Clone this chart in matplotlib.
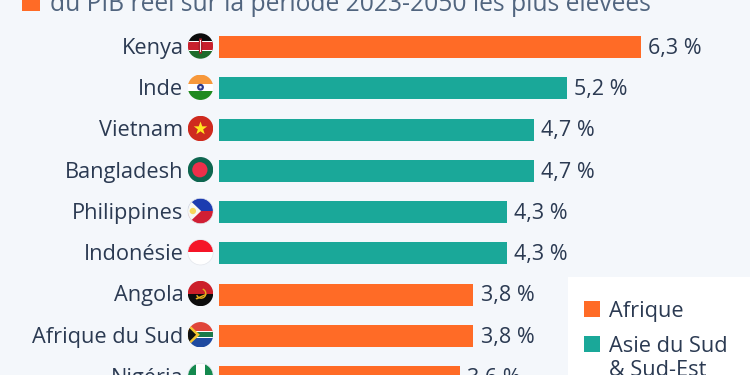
import matplotlib
matplotlib.use("Agg")
import matplotlib.pyplot as plt
from matplotlib.patches import Circle, Rectangle, Polygon, Wedge

countries = ["Kenya", "Inde", "Vietnam", "Bangladesh", "Philippines", "Indonésie", "Angola", "Afrique du Sud", "Nigéria"]
values = [6.3, 5.2, 4.7, 4.7, 4.3, 4.3, 3.8, 3.8, 3.6]
regions = ["Afrique", "Asie", "Asie", "Asie", "Asie", "Asie", "Afrique", "Afrique", "Afrique"]
value_labels = ["6,3 %", "5,2 %", "4,7 %", "4,7 %", "4,3 %", "4,3 %", "3,8 %", "3,8 %", "3,6 %"]
colors = {"Afrique": "#ff6b26", "Asie": "#1aa899"}
subtitle = "du PIB réel sur la période 2023-2050 les plus élevées"
BG = "#f4f7fb"; INK = "#2b3a52"; SUB = "#51657f"
FS = 15.7

plt.rcParams["font.family"] = ["Open Sans", "DejaVu Sans"]
W, H = 750, 375
fig = plt.figure(figsize=(7.5, 3.75), dpi=100, facecolor=BG)

ov = fig.add_axes([0, 0, 1, 1], zorder=1)
ov.set_xlim(0, W); ov.set_ylim(H, 0); ov.axis("off")

x0, ppu = 219, 66.95
y0, step = 47, 41.25
ax = fig.add_axes([x0 / W, 0, 1 - x0 / W, 1], zorder=2)
ax.patch.set_alpha(0)
ax.set_xlim(0, (W - x0) / ppu)
ax.set_ylim((H - y0) / step, -y0 / step)
ax.axis("off")
ypos = list(range(len(countries)))
ax.barh(ypos, values, height=22 / step, color=[colors[r] for r in regions], linewidth=0)
for y, v, l in zip(ypos, values, value_labels):
    ax.annotate(l, (v, y), xytext=(5.2, 0.8), textcoords="offset points", va="center_baseline", ha="left",
                fontsize=15.45, color=INK, annotation_clip=False)

def flag(cx, cy, name):
    r = 12.7
    clip = Circle((cx, cy), r, transform=ov.transData)
    def band(top, bot, c):
        p = Rectangle((cx - r, cy - r + top * 2 * r), 2 * r, (bot - top) * 2 * r, fc=c, ec="none")
        ov.add_patch(p); p.set_clip_path(clip)
    def poly(pts, c):
        p = Polygon([(cx + a * r, cy + b * r) for a, b in pts], fc=c, ec="none")
        ov.add_patch(p); p.set_clip_path(clip)
    def disc(dx, dy, rr, c):
        p = Circle((cx + dx * r, cy + dy * r), rr * r, fc=c, ec="none")
        ov.add_patch(p); p.set_clip_path(clip)
    star = [(0, -.55), (.14, -.17), (.53, -.17), (.21, .07), (.33, .45), (0, .22), (-.33, .45), (-.21, .07), (-.53, -.17), (-.14, -.17)]
    if name == "Kenya":
        band(0, .33, "#0c0c0c"); band(.33, .66, "#c8202c"); band(.66, 1, "#1d6b2a")
        band(.31, .36, "#ffffff"); band(.64, .69, "#ffffff")
        poly([(-.1, -.6), (.1, -.6), (.17, 0), (.1, .6), (-.1, .6), (-.17, 0)], "#a81d28")
        poly([(-.03, -.45), (.03, -.45), (.03, .45), (-.03, .45)], "#eeeeee")
    elif name == "Inde":
        band(0, .36, "#f7983b"); band(.36, .66, "#ffffff"); band(.66, 1, "#1f8a1f"); disc(0, 0, .27, "#2e3a8c"); disc(0, 0, .1, "#dfe3f2")
    elif name == "Vietnam":
        band(0, 1, "#cf2a1e"); poly(star, "#ffe620")
    elif name == "Bangladesh":
        band(0, 1, "#0e6650"); disc(-.05, 0, .6, "#ee2f4a")
    elif name == "Philippines":
        band(0, .5, "#1c3cb0"); band(.5, 1, "#d11f34"); poly([(-1, -1), (.05, 0), (-1, 1)], "#f7f7f2"); disc(-.6, 0, .25, "#f6d75c")
    elif name == "Indonésie":
        band(0, .5, "#f51527"); band(.5, 1, "#ffffff")
    elif name == "Angola":
        band(0, .5, "#cc1f2a"); band(.5, 1, "#0d0d0d")
        p = Wedge((cx + .05 * r, cy), .42 * r, 290, 160, width=.11 * r, fc="#e9b21f", ec="none")
        ov.add_patch(p); p.set_clip_path(clip)
        poly([(-.4, .38), (.42, .02), (.48, .1), (-.3, .48)], "#e9b21f")
    elif name == "Afrique du Sud":
        band(0, .5, "#e0453a"); band(.5, 1, "#1f4aa0"); band(.36, .64, "#ffffff"); band(.41, .59, "#1b7a4a")
        poly([(-1, -.9), (-.05, 0), (-1, .9)], "#f4c430"); poly([(-1, -.65), (-.35, 0), (-1, .65)], "#111111")
    elif name == "Nigéria":
        band(0, 1, "#ffffff"); poly([(-1, -1), (-.34, -1), (-.34, 1), (-1, 1)], "#14894e"); poly([(.34, -1), (1, -1), (1, 1), (.34, 1)], "#14894e")
    if name in ("Indonésie", "Philippines", "Nigéria"):
        ov.add_patch(Circle((cx, cy), r, fc="none", ec="#e3e6ec", lw=.5))

for i, c in enumerate(countries):
    yc = y0 + step * i
    ov.text(183.5, yc - 1, c, ha="right", va="center_baseline", fontsize=FS, color=INK)
    flag(200.5, yc - 1, c)

ov.add_patch(Rectangle((22, -8), 18, 19, fc=colors["Afrique"], ec="none"))
ov.text(50, 11, subtitle, ha="left", va="baseline", fontsize=17.7, color=SUB)

ov.add_patch(Rectangle((568, 277), 182, 98, fc="white", ec="none", zorder=3))
ov.add_patch(Rectangle((584, 301), 16, 16, fc=colors["Afrique"], ec="none", zorder=4))
ov.add_patch(Rectangle((584, 336), 16, 16, fc=colors["Asie"], ec="none", zorder=4))
ov.text(609, 316.5, "Afrique", fontsize=FS, color=INK, zorder=4)
ov.text(609, 351.5, "Asie du Sud", fontsize=FS, color=INK, zorder=4)
ov.text(609, 375.5, "& Sud-Est", fontsize=FS, color=INK, zorder=4)

fig.savefig("out.png", dpi=100, facecolor=BG)
